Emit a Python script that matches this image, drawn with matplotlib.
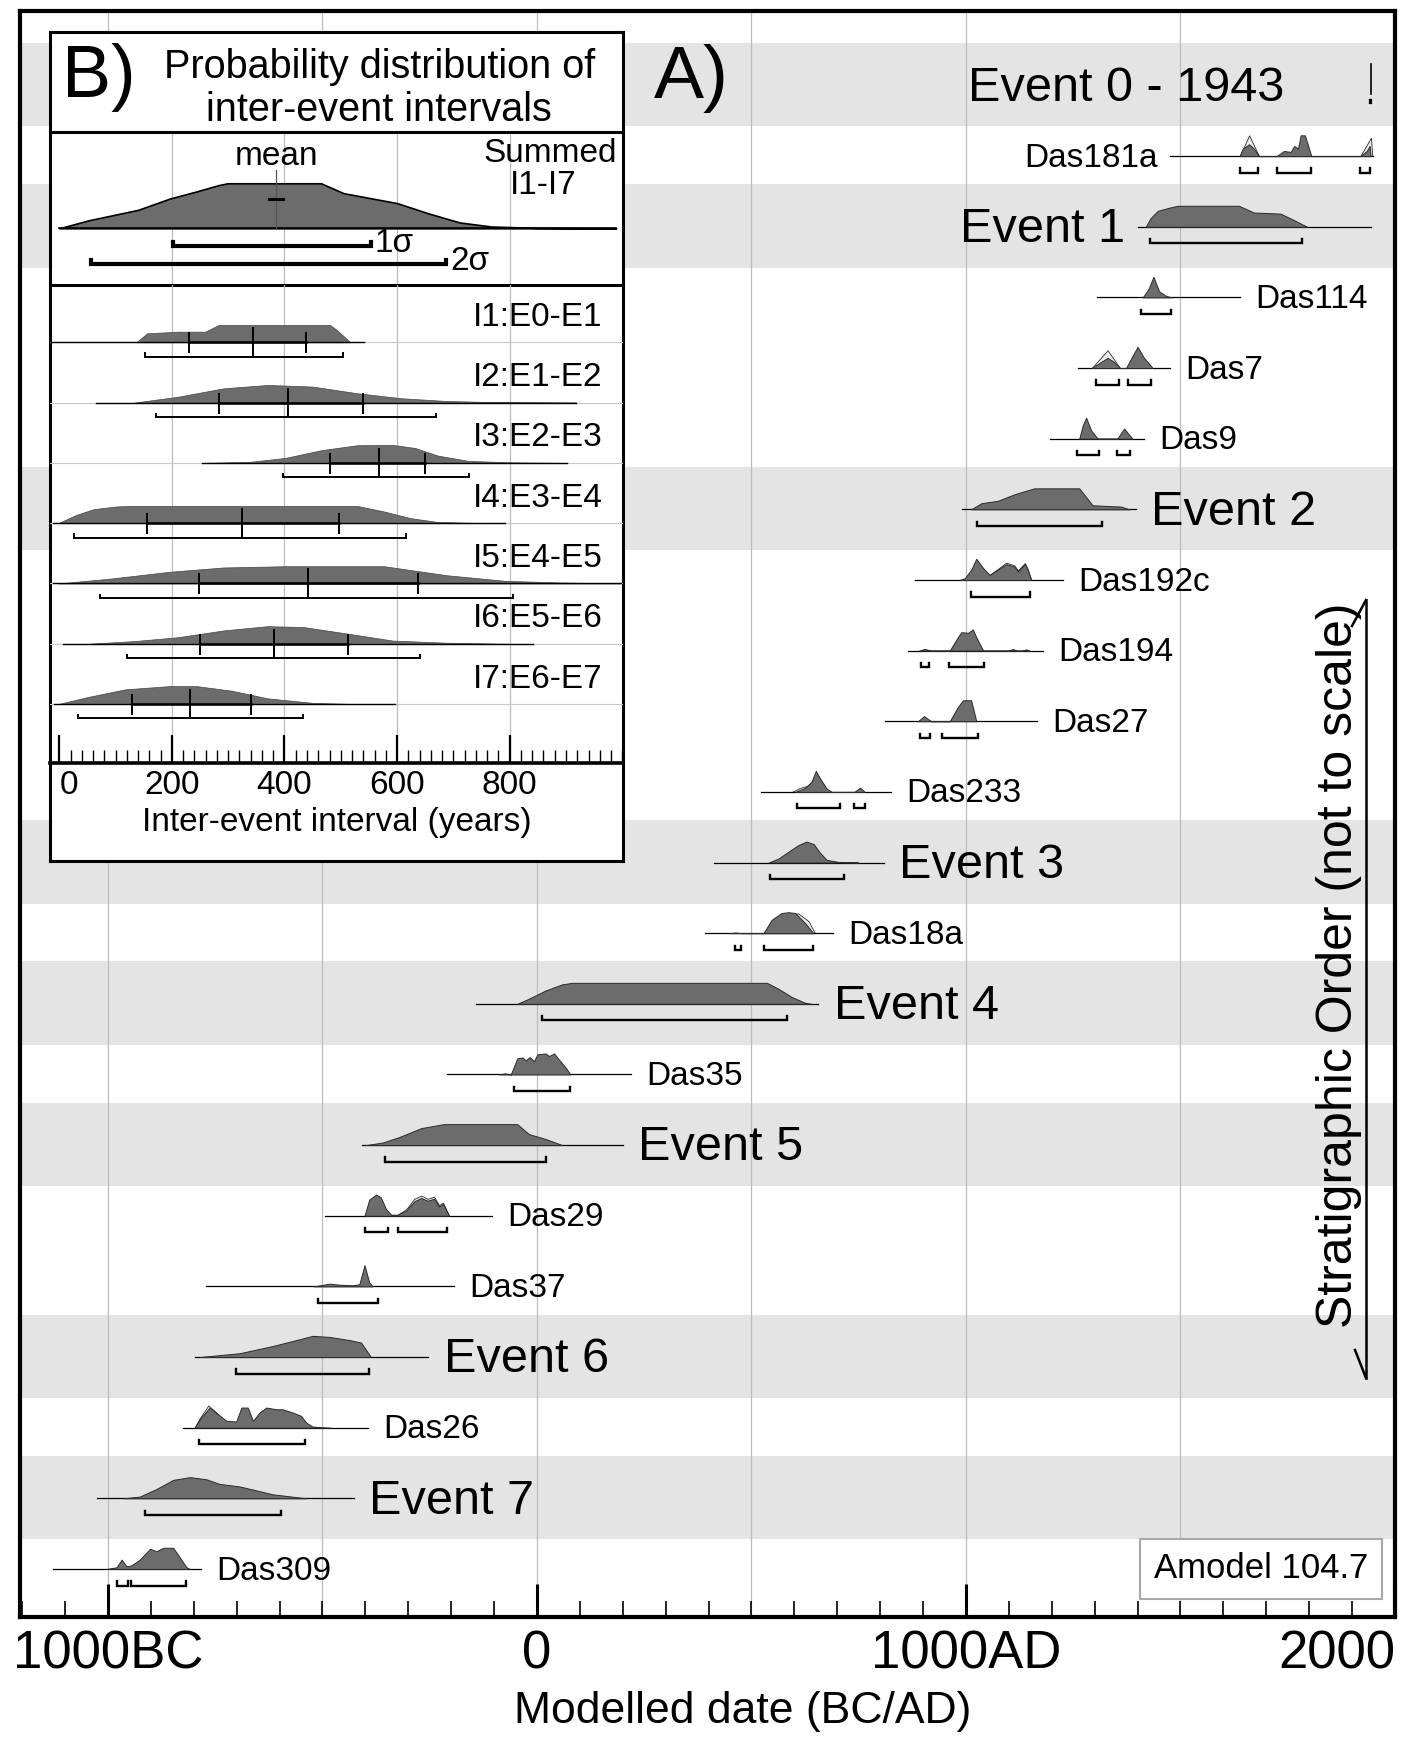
import matplotlib
matplotlib.use("Agg")
import matplotlib.pyplot as plt
from matplotlib.lines import Line2D
from matplotlib.ticker import MultipleLocator
import numpy as np

plt.rcParams["font.family"] = ["Liberation Sans", "DejaVu Sans"]

W, H, DPI = 1413, 1742, 100

# ── A) modelled dates, calendar years (BC negative) ───────────────────────
# *_span: extent of the plotted curve, *_yr / *_p: probability knots (peak = 1),
# *_rng: 95.4% ranges, *_lik: unmodelled likelihood outline
event0_date = 1943

das181a_span = (1476, 1949)
das181a_yr = [1638, 1645, 1660, 1671, 1683, 1724, 1741, 1757, 1765, 1774, 1780, 1790, 1805, 1919, 1934, 1941, 1943]
das181a_p = [0, 0.35, 0.56, 0.35, 0, 0, 0.24, 0.2, 0.48, 0.35, 0.98, 0.98, 0, 0, 0.24, 0.48, 0]
das181a_lik_yr = [1638, 1660, 1683, 1919, 1944, 1947]
das181a_lik_p = [0, 0.98, 0, 0, 0.87, 0]
das181a_rng = [(1638, 1681), (1726, 1805), (1919, 1941)]

event1_span = (1400, 1944)
event1_yr = [1419, 1430, 1447, 1474, 1493, 1636, 1671, 1733, 1764, 1795]
event1_p = [0, 0.4, 0.75, 0.9, 0.99, 0.99, 0.67, 0.62, 0.32, 0]
event1_rng = [(1429, 1784)]

das114_span = (1305, 1639)
das114_yr = [1412, 1425, 1437, 1450, 1466, 1480]
das114_p = [0, 0.38, 0.97, 0.29, 0.07, 0]
das114_rng = [(1409, 1478)]

das7_span = (1260, 1475)
das7_yr = [1293, 1315, 1330, 1345, 1359, 1373, 1388, 1400, 1415, 1435]
das7_p = [0, 0.29, 0.48, 0.29, 0, 0, 0.57, 1.0, 0.48, 0]
das7_lik_yr = [1293, 1330, 1359]
das7_lik_p = [0, 0.84, 0]
das7_rng = [(1303, 1357), (1377, 1431)]

das9_span = (1196, 1414)
das9_yr = [1264, 1272, 1280, 1292, 1307, 1353, 1362, 1369, 1378, 1388]
das9_p = [0, 0.62, 0.99, 0.38, 0, 0, 0.29, 0.48, 0.24, 0]
das9_rng = [(1259, 1311), (1353, 1383)]

event2_span = (991, 1396)
event2_yr = [1012, 1036, 1074, 1113, 1159, 1264, 1295, 1361, 1381]
event2_p = [0, 0.29, 0.4, 0.71, 0.99, 0.99, 0.19, 0.13, 0]
event2_rng = [(1026, 1316)]

das192c_span = (881, 1226)
das192c_yr = [985, 997, 1012, 1024, 1040, 1055, 1074, 1094, 1113, 1121, 1137, 1144, 1152]
das192c_p = [0, 0.08, 0.48, 1.0, 0.56, 0.24, 0.48, 0.75, 0.63, 0.4, 0.75, 0.48, 0]
das192c_lik_yr = [1055, 1074, 1094, 1113, 1121, 1137, 1144, 1152]
das192c_lik_p = [0.24, 0.52, 0.82, 0.68, 0.45, 0.8, 0.5, 0]
das192c_rng = [(1011, 1150)]

das194_span = (865, 1179)
das194_yr = [890, 904, 918, 962, 981, 989, 1005, 1016, 1024, 1040, 1100, 1109, 1118, 1132, 1140, 1148]
das194_p = [0, 0.08, 0, 0, 0.63, 0.87, 0.84, 1.0, 0.63, 0, 0, 0.08, 0, 0, 0.06, 0]
das194_rng = [(895, 914), (960, 1043)]

das27_span = (811, 1165)
das27_yr = [888, 902, 919, 962, 981, 993, 1012, 1024]
das27_p = [0, 0.24, 0, 0, 0.67, 0.99, 0.99, 0]
das27_rng = [(892, 915), (944, 1028)]

das233_span = (522, 825)
das233_yr = [602, 625, 640, 650, 660, 675, 687, 740, 753, 764]
das233_p = [0, 0.19, 0.48, 0.99, 0.63, 0.16, 0, 0, 0.2, 0]
das233_lik_yr = [594, 615, 632, 645]
das233_lik_p = [0, 0.2, 0.3, 0.6]
das233_rng = [(605, 706), (740, 764)]

event3_span = (412, 809)
event3_yr = [540, 563, 586, 609, 628, 645, 659, 675, 702, 749]
event3_p = [0, 0.19, 0.51, 0.82, 0.99, 0.87, 0.48, 0.13, 0.03, 0]
event3_rng = [(543, 716)]

das18a_span = (391, 691)
das18a_yr = [447, 462, 477, 528, 547, 570, 586, 602, 625, 644]
das18a_p = [0, 0.03, 0, 0, 0.63, 0.95, 0.99, 0.95, 0.48, 0]
das18a_lik_yr = [528, 550, 575, 609, 633, 648]
das18a_lik_p = [0, 0.55, 0.9, 0.93, 0.57, 0]
das18a_rng = [(462, 476), (530, 644)]

event4_span = (-143, 656)
event4_yr = [-46, -19, 20, 59, 82, 536, 563, 594, 625, 640]
event4_p = [0, 0.24, 0.63, 0.92, 0.99, 0.99, 0.71, 0.32, 0.05, 0]
event4_rng = [(12, 582)]

das35_span = (-209, 220)
das35_yr = [-88, -75, -61, -46, -34, -26, -17, -7, 1, 20, 28, 40, 51, 67, 78]
das35_p = [0, 0.05, 0, 0.76, 0.8, 0.67, 0.82, 0.63, 0.95, 0.99, 0.87, 0.99, 0.71, 0.32, 0]
das35_rng = [(-53, 76)]

event5_span = (-407, 200)
event5_yr = [-399, -360, -321, -270, -217, -46, -19, 20, 59]
event5_p = [0, 0.12, 0.38, 0.8, 0.99, 0.99, 0.52, 0.29, 0]
event5_rng = [(-355, 22)]

das29_span = (-493, -104)
das29_yr = [-402, -391, -375, -364, -352, -340, -325, -305, -286, -270, -255, -240, -228, -219, -205]
das29_p = [0, 0.76, 1.0, 0.87, 0.32, 0.05, 0.05, 0.24, 0.68, 0.84, 0.71, 0.8, 0.44, 0.56, 0]
das29_lik_yr = [-325, -305, -286, -270, -255, -240, -228, -219, -205]
das29_lik_p = [0.05, 0.3, 0.8, 0.95, 0.8, 0.9, 0.5, 0.62, 0]
das29_rng = [(-400, -347), (-325, -209)]

das37_span = (-772, -193)
das37_yr = [-520, -484, -460, -430, -414, -402, -391, -383]
das37_p = [0, 0.13, 0.08, 0.05, 0.1, 1.0, 0.19, 0]
das37_rng = [(-511, -370)]

event6_span = (-798, -253)
event6_yr = [-786, -693, -616, -553, -523, -484, -437, -410, -387]
event6_p = [0, 0.18, 0.52, 0.84, 1.0, 0.95, 0.8, 0.68, 0]
event6_rng = [(-702, -392)]

das26_span = (-826, -395)
das26_yr = [-798, -786, -763, -743, -724, -701, -689, -674, -662, -647, -631, -608, -593, -569, -550, -538, -523, -480]
das26_p = [0, 0.4, 0.95, 0.63, 0.32, 0.29, 0.95, 0.95, 0.32, 0.71, 0.95, 0.87, 0.87, 0.71, 0.56, 0.24, 0.05, 0]
das26_lik_yr = [-798, -786, -766, -743]
das26_lik_p = [0, 0.45, 1.05, 0.63]
das26_rng = [(-788, -540)]

event7_span = (-1026, -426)
event7_yr = [-964, -926, -887, -848, -809, -771, -740, -693, -616, -538]
event7_p = [0, 0.08, 0.44, 0.87, 1.0, 0.9, 0.68, 0.56, 0.19, 0]
event7_rng = [(-914, -596)]

das309_span = (-1127, -784)
das309_yr = [-1003, -980, -968, -957, -946, -926, -902, -887, -871, -848, -833, -817, -809]
das309_p = [0, 0.08, 0.44, 0.13, 0.16, 0.44, 0.95, 0.84, 1.0, 1.0, 0.56, 0.08, 0]
das309_rng = [(-978, -954), (-947, -817)]

amodel = 104.7

# ── B) inter-event intervals (years) ──────────────────────────────────────
summed_yr = [0, 53, 140, 196, 244, 283, 299, 465, 505, 600, 656, 711, 767, 846, 989]
summed_p = [0, 0.18, 0.41, 0.66, 0.82, 0.96, 1.0, 1.0, 0.78, 0.56, 0.33, 0.13, 0.04, 0.01, 0]
summed_mean = 385
summed_1s = (202, 554)
summed_2s = (57, 687)

interval_names = ["I1:E0-E1", "I2:E1-E2", "I3:E2-E3", "I4:E3-E4", "I5:E4-E5", "I6:E5-E6", "I7:E6-E7"]
interval_span = [(-14, 541), (65, 918), (253, 902), (-12, 791), (-12, 997), (6, 842), (-10, 596)]
interval_yr = [
    [137, 156, 212, 259, 283, 481, 493, 517],
    [133, 212, 291, 370, 450, 529, 608, 688, 767, 918],
    [253, 339, 402, 466, 529, 592, 632, 672, 727, 806, 902],
    [-2, 30, 61, 101, 133, 529, 577, 624, 672, 760],
    [-2, 93, 196, 291, 402, 577, 688, 791, 886, 997],
    [50, 133, 212, 291, 370, 434, 513, 592, 688, 800],
    [-2, 53, 117, 196, 244, 307, 370, 450, 530],
]
interval_p = [
    [0, 0.5, 0.59, 0.59, 0.96, 0.96, 0.68, 0],
    [0, 0.33, 0.79, 0.98, 0.89, 0.52, 0.24, 0.09, 0.03, 0],
    [0, 0.06, 0.28, 0.71, 0.98, 1.0, 0.83, 0.41, 0.11, 0.03, 0],
    [0, 0.46, 0.78, 0.93, 0.96, 0.96, 0.65, 0.28, 0.07, 0],
    [0, 0.28, 0.65, 0.89, 0.96, 0.96, 0.46, 0.15, 0.06, 0],
    [0, 0.15, 0.37, 0.74, 0.98, 0.93, 0.56, 0.18, 0.06, 0],
    [0, 0.41, 0.82, 1.0, 1.0, 0.74, 0.32, 0.07, 0],
]
interval_mean = [344, 406, 567, 324, 442, 382, 232]
interval_1s = [(230, 439), (283, 539), (481, 650), (155, 496), (249, 638), (250, 513), (129, 340)]
interval_2s = [(152, 504), (171, 669), (398, 727), (26, 615), (73, 805), (121, 640), (33, 432)]

# rows in stratigraphic order (top = youngest)
rows = [
    ("Event 0 - 1943", None, None, None, None, None),
    ("Das181a", das181a_span, das181a_yr, das181a_p, das181a_rng, (das181a_lik_yr, das181a_lik_p)),
    ("Event 1", event1_span, event1_yr, event1_p, event1_rng, None),
    ("Das114", das114_span, das114_yr, das114_p, das114_rng, None),
    ("Das7", das7_span, das7_yr, das7_p, das7_rng, (das7_lik_yr, das7_lik_p)),
    ("Das9", das9_span, das9_yr, das9_p, das9_rng, None),
    ("Event 2", event2_span, event2_yr, event2_p, event2_rng, None),
    ("Das192c", das192c_span, das192c_yr, das192c_p, das192c_rng, (das192c_lik_yr, das192c_lik_p)),
    ("Das194", das194_span, das194_yr, das194_p, das194_rng, None),
    ("Das27", das27_span, das27_yr, das27_p, das27_rng, None),
    ("Das233", das233_span, das233_yr, das233_p, das233_rng, (das233_lik_yr, das233_lik_p)),
    ("Event 3", event3_span, event3_yr, event3_p, event3_rng, None),
    ("Das18a", das18a_span, das18a_yr, das18a_p, das18a_rng, (das18a_lik_yr, das18a_lik_p)),
    ("Event 4", event4_span, event4_yr, event4_p, event4_rng, None),
    ("Das35", das35_span, das35_yr, das35_p, das35_rng, None),
    ("Event 5", event5_span, event5_yr, event5_p, event5_rng, None),
    ("Das29", das29_span, das29_yr, das29_p, das29_rng, (das29_lik_yr, das29_lik_p)),
    ("Das37", das37_span, das37_yr, das37_p, das37_rng, None),
    ("Event 6", event6_span, event6_yr, event6_p, event6_rng, None),
    ("Das26", das26_span, das26_yr, das26_p, das26_rng, (das26_lik_yr, das26_lik_p)),
    ("Event 7", event7_span, event7_yr, event7_p, event7_rng, None),
    ("Das309", das309_span, das309_yr, das309_p, das309_rng, None),
]
labels_left = {"Das181a", "Event 1"}

FILL = "#6c6c6c"
EDGE = "#2a2a2a"
BAND = "#e4e4e4"
GRID = "#bcbcbc"

PEAK = 0.30       # height of a unit-probability curve, in row units
BR_OFF = 0.235    # range bar offset below the baseline
BR_TICK = 0.06


def px_axes(fig, x0, y0, x1, y1):
    return fig.add_axes([x0 / W, 1 - y1 / H, (x1 - x0) / W, (y1 - y0) / H])


def range_bar(ax, a, b, y, tick, lw):
    ax.plot([a, a, b, b], [y - tick, y, y, y - tick], color="k", lw=lw,
            solid_joinstyle="miter", zorder=4)


fig = plt.figure(figsize=(W / DPI, H / DPI), dpi=DPI)
ax = px_axes(fig, 20, 11, 1395, 1617)
ax.set_xlim(-1205, 2000)
ax.set_ylim(21.68, -1.054)

for xg in range(-1000, 2000, 500):
    ax.axvline(xg, color=GRID, lw=0.9, zorder=1)

for i, (name, span, yr, p, rng, lik) in enumerate(rows):
    if name.startswith("Event"):
        ax.axhspan(i - 0.6, i + 0.58, color=BAND, lw=0, zorder=0)
    if span is None:
        # fixed historical date: a single spike
        ax.plot([event0_date, event0_date], [i - 0.30, i + 0.12], color="k", lw=1.2, zorder=4)
        range_bar(ax, event0_date - 2, event0_date + 2, i + 0.25, 0.05, 1.6)
        ax.annotate(name, xy=(event0_date, i), xytext=(-62, -2.5), textcoords="offset points",
                    ha="right", va="center", fontsize=35)
        continue
    ax.plot(span, [i, i], color="k", lw=0.9, zorder=3)
    if lik is not None:
        ly = i - np.array(lik[1]) * PEAK
        ax.fill_between(lik[0], i, ly, facecolor="#ececec", edgecolor=EDGE, lw=0.6, zorder=2)
    ax.fill_between(yr, i, i - np.array(p) * PEAK, facecolor=FILL, edgecolor=EDGE,
                    lw=0.7, zorder=3)
    for a, b in rng:
        range_bar(ax, a, b, i + BR_OFF, BR_TICK, 1.7)
    big = name.startswith("Event")
    fs = 35 if big else 24
    dy = -2.0 if big else -1.5
    if name in labels_left:
        ax.annotate(name, xy=(span[0], i), xytext=(-9, dy), textcoords="offset points",
                    ha="right", va="center", fontsize=fs)
    else:
        ax.annotate(name, xy=(span[1], i), xytext=(11, dy), textcoords="offset points",
                    ha="left", va="center", fontsize=fs)

ax.set_yticks([])
ax.set_xticks([-1000, 0, 1000, 2000])
ax.set_xticklabels(["1000BC", "0", "1000AD", "2000"], fontsize=38)
ax.get_xticklabels()[-1].set_ha("right")
ax.xaxis.set_minor_locator(MultipleLocator(100))
ax.tick_params(axis="x", which="major", direction="in", length=24, width=2.2, pad=9)
ax.tick_params(axis="x", which="minor", direction="in", length=11.5, width=1.2)
for s in ax.spines.values():
    s.set_linewidth(3)
fig.text(743 / W, 1 - 1711 / H, "Modelled date (BC/AD)", fontsize=32, ha="center", va="center")

ax.text(0.4886, 0.958, "A)", transform=ax.transAxes, fontsize=54, ha="center", va="center")
ax.text(1688, 21.0, "Amodel %.1f" % amodel, fontsize=25, ha="center", va="center",
        bbox=dict(boxstyle="square,pad=0.4", facecolor="white", edgecolor="#a8a8a8", lw=1.5))

# stratigraphic order arrow
fig.text(1339 / W, 1 - 965 / H, "Stratigraphic Order (not to scale)", rotation=90,
         fontsize=36, ha="center", va="center")
for xs, ys in [([1366, 1366], [600, 1378]), ([1366, 1352], [600, 626]), ([1366, 1355], [1378, 1350])]:
    fig.add_artist(Line2D([x / W for x in xs], [1 - y / H for y in ys], color="k", lw=1.8,
                          transform=fig.transFigure))

# ── inset B ───────────────────────────────────────────────────────────────
IX0, IX1 = 50, 622.7
XL = (-16.5, 1000.7)
frame = px_axes(fig, IX0, 32, IX1, 861)
frame.set_xticks([])
frame.set_yticks([])
frame.set_facecolor("white")
for s in frame.spines.values():
    s.set_linewidth(2.2)
frame.text(0.021, 0.945, "B)", transform=frame.transAxes, fontsize=53, ha="left", va="center")
frame.text(0.575, 0.958, "Probability distribution of", transform=frame.transAxes,
           fontsize=28.5, ha="center", va="center")
frame.text(0.575, 0.906, "inter-event intervals", transform=frame.transAxes,
           fontsize=28.5, ha="center", va="center")

ax_sum = px_axes(fig, IX0, 132.3, IX1, 285)
ax_sum.patch.set_alpha(0)
ax_sum.set_xlim(*XL)
ax_sum.set_ylim(285, 132.3)
ax_sum.set_xticks([])
ax_sum.set_yticks([])
for k in ("left", "right"):
    ax_sum.spines[k].set_visible(False)
for k in ("top", "bottom"):
    ax_sum.spines[k].set_linewidth(2.2)
for xg in range(200, 1000, 200):
    ax_sum.axvline(xg, color=GRID, lw=0.9, zorder=1)
sb = 228.3
ax_sum.plot([summed_yr[0], summed_yr[-1]], [sb, sb], color="k", lw=1.2, zorder=3)
ax_sum.fill_between(summed_yr, sb, sb - np.array(summed_p) * 45, facecolor=FILL,
                    edgecolor="k", lw=1.2, zorder=2)
ax_sum.plot([summed_mean, summed_mean], [170, sb], color="#555555", lw=0.9, zorder=4)
ax_sum.plot([summed_mean - 12, summed_mean + 12], [199, 199], color="k", lw=2.2, zorder=4)
ax_sum.text(summed_mean, 157, "mean", fontsize=24, ha="center", va="center")
ax_sum.text(990, 154, "Summed", fontsize=24, ha="right", va="center")
ax_sum.text(860, 186, "I1-I7", fontsize=24, ha="center", va="center")
range_bar(ax_sum, summed_1s[0], summed_1s[1], 246, 4, 3)
range_bar(ax_sum, summed_2s[0], summed_2s[1], 264, 4, 3)
ax_sum.text(summed_1s[1] + 5, 244, "1σ", fontsize=24, ha="left", va="center")
ax_sum.text(summed_2s[1] + 7, 262, "2σ", fontsize=24, ha="left", va="center")

ax_int = px_axes(fig, IX0, 285, IX1, 763.3)
ax_int.patch.set_alpha(0)
ax_int.set_xlim(*XL)
ax_int.set_ylim(763.3, 285)
ax_int.set_yticks([])
for k in ("left", "right", "top"):
    ax_int.spines[k].set_visible(False)
ax_int.spines["bottom"].set_linewidth(2.6)
for xg in range(200, 1000, 200):
    ax_int.axvline(xg, color=GRID, lw=0.9, zorder=1)
for k, name in enumerate(interval_names):
    b = 342.3 + 60.3 * k
    ax_int.axhline(b, color="#c8c8c8", lw=0.8, zorder=1)
    ax_int.plot(interval_span[k], [b, b], color="k", lw=1.0, zorder=3)
    ax_int.fill_between(interval_yr[k], b, b - np.array(interval_p[k]) * 18,
                        facecolor=FILL, edgecolor="#444444", lw=0.5, zorder=2)
    lo, hi = interval_1s[k]
    ax_int.plot([lo, hi], [b, b], color="k", lw=1.8, zorder=4)
    for xv in (lo, hi):
        ax_int.plot([xv, xv], [b - 9, b + 10], color="k", lw=1.4, zorder=4)
    ax_int.plot([interval_mean[k]] * 2, [b - 14, b + 14.4], color="k", lw=1.4, zorder=4)
    range_bar(ax_int, interval_2s[k][0], interval_2s[k][1], b + 14.4, 3.3, 1.4)
    ax_int.text(965, b - 25, name, fontsize=24, ha="right", va="center")

ax_int.set_xticks(range(0, 801, 200))
ax_int.set_xticklabels(["0", "200", "400", "600", "800"], fontsize=24)
ax_int.get_xticklabels()[0].set_ha("left")
ax_int.xaxis.set_minor_locator(MultipleLocator(20))
ax_int.tick_params(axis="x", which="major", direction="in", length=20, width=1.6, pad=5)
ax_int.tick_params(axis="x", which="minor", direction="in", length=9.5, width=1.0)
ax_int.set_xlabel("Inter-event interval (years)", fontsize=24, labelpad=4)

fig.savefig("out.png", dpi=DPI)
